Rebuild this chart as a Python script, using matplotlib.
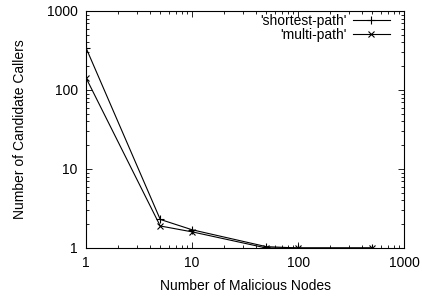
import numpy as np
import matplotlib
matplotlib.use('Agg')
import matplotlib.pyplot as plt
from matplotlib.ticker import FixedLocator, FixedFormatter, LogLocator, NullFormatter

plt.rc('font', family=['Liberation Sans', 'DejaVu Sans'], size=10)

nodes = [1, 5, 10, 50, 100, 500]
shortest_path = [340, 2.3, 1.7, 1.04, 1.0, 1.0]
multi_path = [142, 1.9, 1.6, 1.0, 1.0, 1.0]
ticks = [1, 10, 100, 1000]
tick_labels = ['1', '10', '100', '1000']

fig = plt.figure(figsize=(4.22, 2.97), dpi=100)
ax = fig.add_axes([0.204, 0.165, 0.754, 0.798])

ax.plot(nodes, shortest_path, color='black', lw=0.8, marker='+', ms=6, mew=0.8,
        label="'shortest-path'")
ax.plot(nodes, multi_path, color='black', lw=0.8, marker='x', ms=5, mew=0.8,
        label="'multi-path'")

ax.set_xscale('log')
ax.set_yscale('log')
ax.set_xlim(1, 1000)
ax.set_ylim(1, 1000)
for axis in (ax.xaxis, ax.yaxis):
    axis.set_major_locator(FixedLocator(ticks))
    axis.set_major_formatter(FixedFormatter(tick_labels))
    axis.set_minor_locator(LogLocator(base=10, subs=np.arange(2, 10)))
    axis.set_minor_formatter(NullFormatter())
ax.tick_params(which='both', direction='in', top=True, right=True, width=0.6)
ax.tick_params(which='major', length=4)
ax.tick_params(which='minor', length=2)
ax.tick_params(axis='x', which='major', pad=6)
ax.tick_params(axis='y', which='major', pad=6)
for s in ax.spines.values():
    s.set_linewidth(0.8)

ax.set_xlabel('Number of Malicious Nodes', labelpad=6)
ax.set_ylabel('Number of Candidate Callers', labelpad=14)
ax.legend(loc='upper right', bbox_to_anchor=(0.96, 0.995), frameon=False,
          markerfirst=False, handlelength=2.7, borderaxespad=0, borderpad=0.1,
          labelspacing=0.0, handletextpad=0.4)

plt.savefig('out.png', dpi=100)
